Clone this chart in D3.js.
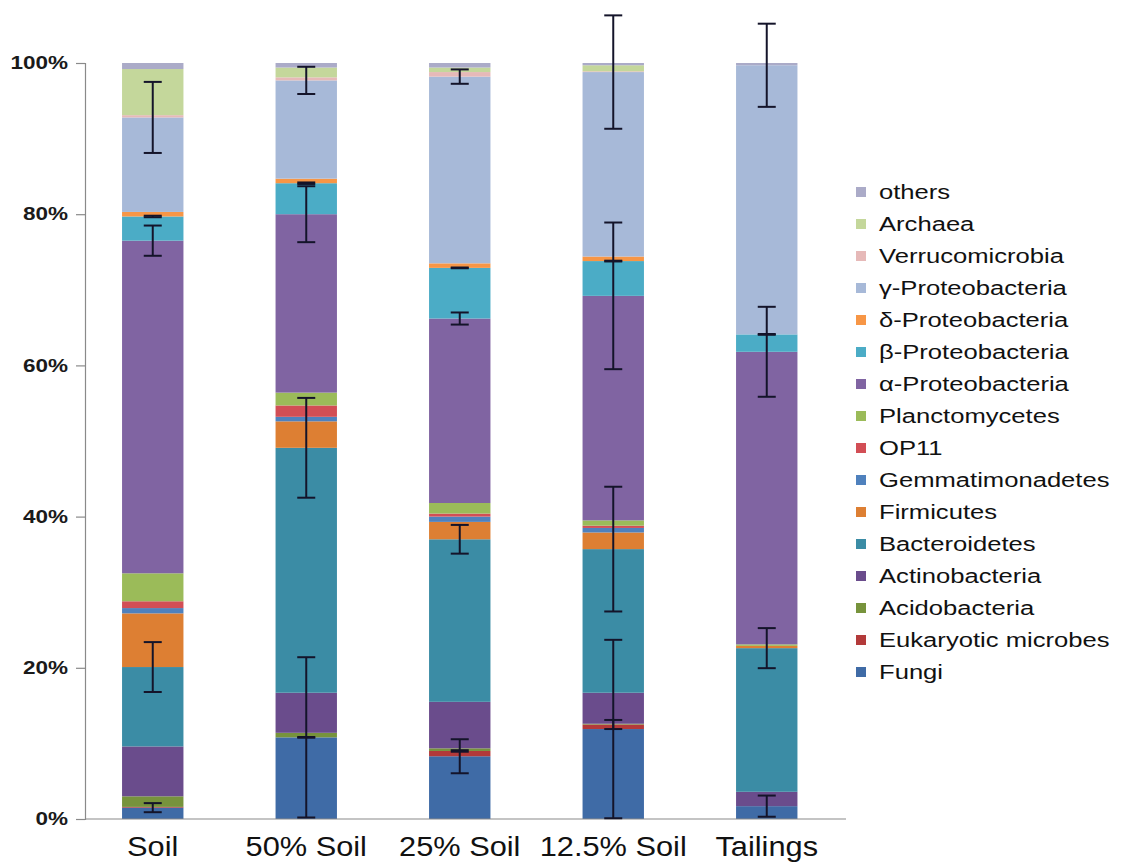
<!DOCTYPE html>
<html>
<head>
<meta charset="utf-8">
<script src="https://cdn.jsdelivr.net/npm/d3@7"></script>
<style>
  html, body { margin: 0; padding: 0; background: #ffffff; }
  svg { display: block; font-family: "Liberation Sans", Arial, sans-serif; }
</style>
</head>
<body>
<svg id="chart" width="1121" height="864"></svg>
<script>
// Sample groups along the x axis
const categories = ["Soil", "50% Soil", "25% Soil", "12.5% Soil", "Tailings"];

// Taxa, stacked from the bottom of each bar upward
const seriesNames = [
  "Fungi", "Eukaryotic microbes", "Acidobacteria", "Actinobacteria",
  "Bacteroidetes", "Firmicutes", "Gemmatimonadetes", "OP11",
  "Planctomycetes", "α-Proteobacteria", "β-Proteobacteria",
  "δ-Proteobacteria", "γ-Proteobacteria", "Verrucomicrobia",
  "Archaea", "others"
];

const seriesColors = [
  "#3F6BA6", "#B33A3A", "#77933C", "#6A4C8C",
  "#3B8CA5", "#DD7F33", "#4F81BD", "#D24E55",
  "#9BBB59", "#8064A2", "#4BACC6",
  "#F79646", "#A7B9D8", "#E6B9B8",
  "#C4D79B", "#ABABC8"
];

// Relative abundance (%) per taxon, one value per sample group
const fungi            = [1.5, 10.8, 8.3, 11.9, 1.7];
const eukaryotic       = [0.1, 0.0, 0.7, 0.6, 0.0];
const acidobacteria    = [1.4, 0.6, 0.35, 0.1, 0.0];
const actinobacteria   = [6.6, 5.3, 6.15, 4.1, 1.9];
const bacteroidetes    = [10.5, 32.4, 21.5, 19.0, 19.0];
const firmicutes       = [7.1, 3.5, 2.3, 2.2, 0.3];
const gemmatimonadetes = [0.7, 0.6, 0.7, 0.6, 0.0];
const op11             = [0.9, 1.5, 0.4, 0.3, 0.0];
const planctomycetes   = [3.7, 1.7, 1.4, 0.7, 0.2];
const alphaProteo      = [44.0, 23.6, 24.4, 29.7, 38.7];
const betaProteo       = [3.2, 4.1, 6.7, 4.6, 2.3];
const deltaProteo      = [0.6, 0.6, 0.6, 0.6, 0.0];
const gammaProteo      = [12.5, 13.0, 24.7, 24.4, 35.6];
const verrucomicrobia  = [0.3, 0.4, 0.6, 0.1, 0.0];
const archaea          = [6.1, 1.3, 0.6, 0.8, 0.0];
const others           = [0.8, 0.6, 0.6, 0.3, 0.3];

// Standard errors (%), drawn at the top of the matching stacked segment
const fungiErr         = [0.6, 10.6, 2.25, 11.8, 1.4];
const eukaryoticErr    = [null, 0.05, 0.1, 0.6, null];
const bacteroidetesErr = [3.3, 6.6, 1.9, 8.25, 2.65];
const alphaErr         = [2.0, 3.7, 0.8, 9.7, 5.95];
const betaErr          = [0.1, 0.1, 0.05, 0.05, 0.05];
const gammaErr         = [4.7, 1.8, 0.95, 7.5, 5.5];

const yTicks = [0, 20, 40, 60, 80, 100];

const seriesValues = [
  fungi, eukaryotic, acidobacteria, actinobacteria, bacteroidetes,
  firmicutes, gemmatimonadetes, op11, planctomycetes, alphaProteo,
  betaProteo, deltaProteo, gammaProteo, verrucomicrobia, archaea, others
];

const errorSeries = [
  { name: "Fungi", err: fungiErr },
  { name: "Eukaryotic microbes", err: eukaryoticErr },
  { name: "Bacteroidetes", err: bacteroidetesErr },
  { name: "α-Proteobacteria", err: alphaErr },
  { name: "β-Proteobacteria", err: betaErr },
  { name: "γ-Proteobacteria", err: gammaErr }
];

// Row-per-category table for d3.stack
const table = categories.map((c, i) => {
  const row = { category: c };
  seriesNames.forEach((s, k) => { row[s] = seriesValues[k][i]; });
  return row;
});

const svg = d3.select("#chart");
const axisX = 85;
const x = d3.scaleBand()
  .domain(categories)
  .range([76, 843.5])
  .paddingInner(0.6)
  .paddingOuter(0.3);
const y = d3.scaleLinear().domain([0, 100]).range([819, 63]);
const color = d3.scaleOrdinal().domain(seriesNames).range(seriesColors);

const stacked = d3.stack().keys(seriesNames)(table);

// Stacked bars
svg.append("g")
  .selectAll("g")
  .data(stacked)
  .join("g")
  .attr("fill", d => color(d.key))
  .selectAll("rect")
  .data(d => d)
  .join("rect")
  .attr("x", d => x(d.data.category))
  .attr("width", x.bandwidth())
  .attr("y", d => y(d[1]))
  .attr("height", d => Math.max(0, y(d[0]) - y(d[1])));

// Y axis (labels are drawn slightly wide, as in the original typesetting)
const yAxis = svg.append("g")
  .attr("transform", `translate(${axisX},0)`)
  .call(d3.axisLeft(y).tickValues(yTicks).tickFormat(d => d + "%").tickSize(9).tickPadding(0));
yAxis.select(".domain").attr("stroke", "#8a8a8a").attr("stroke-width", 1.2);
yAxis.selectAll(".tick line").attr("stroke", "#8a8a8a").attr("stroke-width", 1.2);
yAxis.selectAll(".tick text")
  .attr("x", null)
  .attr("transform", "translate(-17,0) scale(1.25,1)")
  .attr("font-size", 18)
  .attr("font-weight", "bold")
  .attr("font-family", "Liberation Sans, Arial, sans-serif")
  .attr("fill", "#1a1a1a");

// X axis baseline and category labels
svg.append("line")
  .attr("x1", axisX).attr("x2", 846)
  .attr("y1", y(0)).attr("y2", y(0))
  .attr("stroke", "#8a8a8a").attr("stroke-width", 1.2);

svg.append("g")
  .selectAll("text")
  .data(categories)
  .join("text")
  .attr("transform", d => `translate(${x(d) + x.bandwidth() / 2},856) scale(1.14,1)`)
  .attr("text-anchor", "middle")
  .attr("font-size", 27)
  .attr("fill", "#111")
  .text(d => d);

// Error bars at the cumulative top of each listed taxon
const errData = [];
errorSeries.forEach(es => {
  const layer = stacked.find(l => l.key === es.name);
  categories.forEach((c, i) => {
    if (es.err[i] == null) return;
    const top = layer[i][1];
    errData.push({ category: c, center: top, err: es.err[i] });
  });
});

const capHalf = 9;
const eb = svg.append("g")
  .attr("stroke", "#14142a")
  .attr("stroke-width", 2);
eb.selectAll("line.stem")
  .data(errData)
  .join("line")
  .attr("class", "stem")
  .attr("x1", d => x(d.category) + x.bandwidth() / 2)
  .attr("x2", d => x(d.category) + x.bandwidth() / 2)
  .attr("y1", d => y(d.center + d.err))
  .attr("y2", d => y(Math.max(0, d.center - d.err)));
eb.selectAll("line.capTop")
  .data(errData)
  .join("line")
  .attr("class", "capTop")
  .attr("x1", d => x(d.category) + x.bandwidth() / 2 - capHalf)
  .attr("x2", d => x(d.category) + x.bandwidth() / 2 + capHalf)
  .attr("y1", d => y(d.center + d.err))
  .attr("y2", d => y(d.center + d.err));
eb.selectAll("line.capBottom")
  .data(errData)
  .join("line")
  .attr("class", "capBottom")
  .attr("x1", d => x(d.category) + x.bandwidth() / 2 - capHalf)
  .attr("x2", d => x(d.category) + x.bandwidth() / 2 + capHalf)
  .attr("y1", d => y(Math.max(0, d.center - d.err)))
  .attr("y2", d => y(Math.max(0, d.center - d.err)));

// Legend, listed top-down in reverse stacking order
const legendNames = seriesNames.slice().reverse();
const legend = svg.append("g").attr("transform", "translate(856,192)");
const rows = legend.selectAll("g")
  .data(legendNames)
  .join("g")
  .attr("transform", (d, i) => `translate(0,${i * 32})`);
rows.append("rect")
  .attr("x", 0).attr("y", -5)
  .attr("width", 10).attr("height", 10)
  .attr("fill", d => color(d));
rows.append("text")
  .attr("transform", "translate(23,0) scale(1.22,1)")
  .attr("dy", "0.35em")
  .attr("font-size", 21)
  .attr("fill", "#111")
  .text(d => d);
</script>
</body>
</html>
